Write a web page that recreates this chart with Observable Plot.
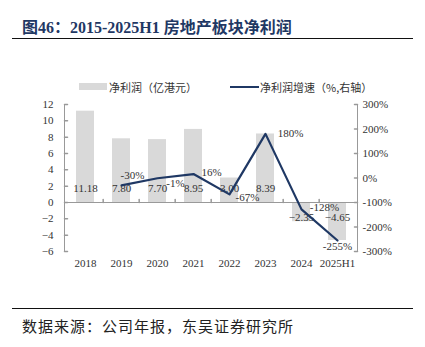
<!DOCTYPE html>
<html><head><meta charset="utf-8">
<script src="https://cdn.jsdelivr.net/npm/d3@7"></script>
<script src="https://cdn.jsdelivr.net/npm/@observablehq/plot@0.6"></script>
<style>
body{margin:0;width:425px;height:347px;position:relative;background:#fff;overflow:hidden}
#title{position:absolute;left:22px;top:14px;line-height:20px;font:bold 16px "Liberation Serif","Noto Sans CJK SC";color:#1f3864;white-space:nowrap}
.rule{position:absolute;left:12px;width:401px;height:1.5px;background:#111}
.lg{position:absolute;font:11px "Noto Sans CJK SC";line-height:14px;color:#333;white-space:nowrap}
#chart{position:absolute;left:0;top:94px}
#source{position:absolute;left:22px;top:315px;line-height:18px;font:15px "Noto Sans CJK SC";letter-spacing:1px;color:#222;white-space:nowrap}
</style></head>
<body>
<div id="title">图46：2015-2025H1 房地产板块净利润</div>
<div class="rule" style="top:37.5px"></div>
<div style="position:absolute;left:79px;top:83px;width:28px;height:7px;background:#d9d9d9"></div>
<div class="lg" style="left:109px;top:80px">净利润（亿港元）</div>
<div style="position:absolute;left:230px;top:86px;width:29px;height:2px;background:#1f3864"></div>
<div class="lg" style="left:260px;top:80px">净利润增速（%,右轴）</div>
<div id="chart"></div>
<div class="rule" style="top:307.5px"></div>
<div id="source">数据来源：公司年报，东吴证券研究所</div>
<script>
const categories = ["2018","2019","2020","2021","2022","2023","2024","2025H1"];
const profit = [11.18, 7.80, 7.70, 8.95, 3.00, 8.39, -2.35, -4.65];
const growthCats = ["2019","2020","2021","2022","2023","2024","2025H1"];
const growth = [-30, -1, 16, -67, 180, -128, -255];
const leftTicks = [-6,-4,-2,0,2,4,6,8,10,12];
const rightTicks = [-300,-200,-100,0,100,200,300];
const leftDomain = [-6, 12];
const rightDomain = [-300, 300];

// label offsets (style)
const growthOffsets = [[11,-10],[18,5],[18,-2],[18,3],[25,0],[23,-2],[0,6]];

const toLeft = d3.scaleLinear().domain(rightDomain).range(leftDomain);
const profitData = categories.map((c,i)=>({cat:c, v:profit[i]}));
const growthData = growthCats.map((c,i)=>({cat:c, g:growth[i], y:toLeft(growth[i])}));

const W = 425, mL = 64, mR = 68;
const step = (W - mL - mR) / categories.length;
const axisColor = "#999";
const tickShape = {draw(ctx, l){ ctx.moveTo(0,0); ctx.lineTo(0,-l); }};

const marks = [
  Plot.barY(profitData, {x:"cat", y:"v", fill:"#d9d9d9"}),
  Plot.text(profitData.filter(d=>d.v>=0), {x:"cat", y:0, text:d=>d3.format(".2f")(d.v), dy:-14, fill:"#333"}),
  Plot.text(profitData.filter(d=>d.v<0), {x:"cat", y:0, text:d=>d3.format(".2f")(d.v), dy:15, fill:"#333"}),
  Plot.ruleY([0], {stroke:axisColor}),
  Plot.frame({anchor:"left", stroke:axisColor}),
  Plot.frame({anchor:"right", stroke:axisColor}),
  Plot.vector(leftTicks, {y:d=>d, frameAnchor:"left", length:3, rotate:90, anchor:"start", shape:tickShape, stroke:axisColor}),
  Plot.vector(rightTicks.map(toLeft), {y:d=>d, frameAnchor:"right", length:3, rotate:-90, anchor:"start", shape:tickShape, stroke:axisColor}),
  Plot.vector(categories.slice(1), {x:d=>d, y:0, length:3, rotate:0, anchor:"start", dx:-step/2, shape:tickShape, stroke:axisColor}),
  Plot.line(growthData, {x:"cat", y:"y", stroke:"#1f3864", strokeWidth:2.2}),
  ...growthData.map((d,i)=>Plot.text([d], {x:"cat", y:"y", text:d=>d.g+"%", dx:growthOffsets[i][0], dy:growthOffsets[i][1], fill:"#333"})),
  Plot.axisX({anchor:"bottom", tickSize:0, tickPadding:8, label:null, fill:"#333"}),
  Plot.axisY(leftTicks, {anchor:"left", tickSize:0, tickPadding:11, label:null, fill:"#333"}),
  Plot.axisY(rightTicks.map(toLeft), {anchor:"right", tickSize:0, tickPadding:5, label:null, fill:"#333",
    tickFormat:d=>Math.round(toLeft.invert(d))+"%"})
];

const chart = Plot.plot({
  width: W, height: 187,
  marginLeft: mL, marginRight: mR, marginTop: 10, marginBottom: 30,
  style: {fontFamily:"Liberation Serif", fontSize:"11px", color:"#333", background:"#fff"},
  x: {type:"band", domain:categories, paddingInner:0.5, paddingOuter:0.25, axis:null},
  y: {domain:leftDomain, axis:null},
  marks
});
document.getElementById("chart").appendChild(chart);
</script>
</body></html>
